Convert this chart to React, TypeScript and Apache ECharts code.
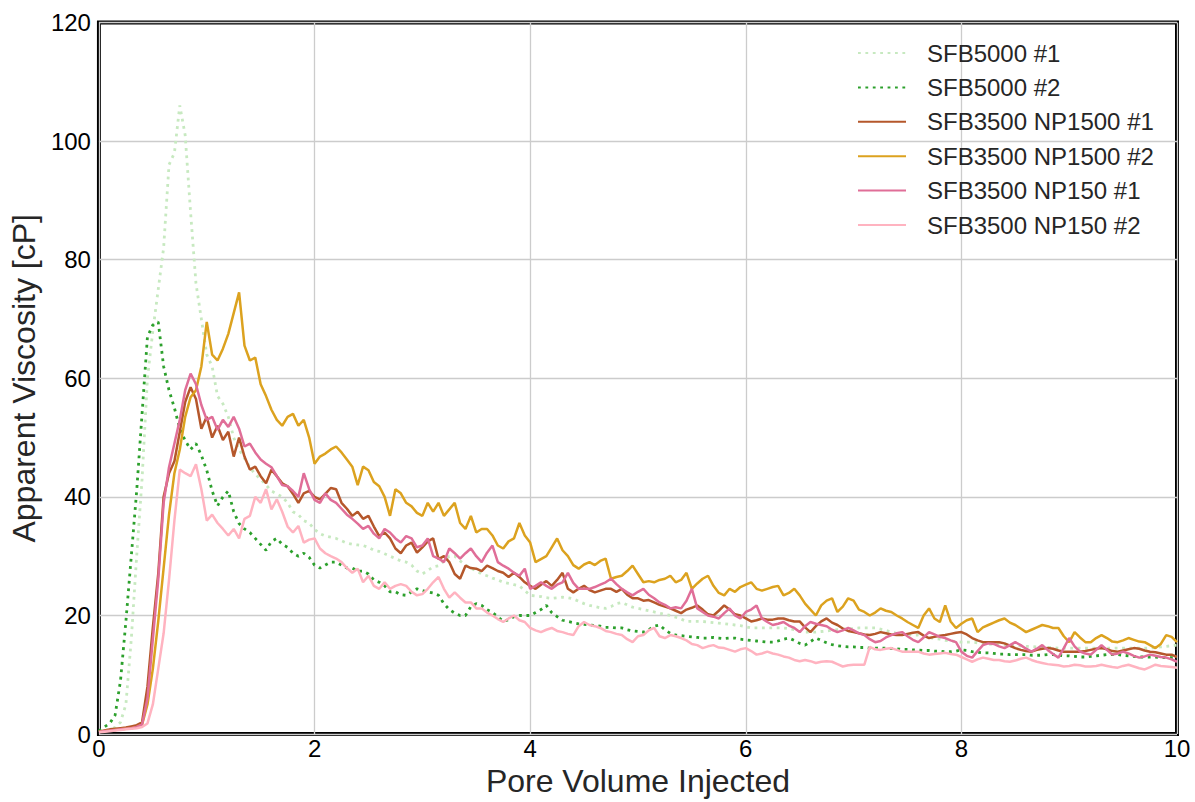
import React, { useEffect, useRef } from "react";
import * as echarts from "echarts";

// Pore volumes injected: readings are sampled every 0.05 PV from 0 to 10.
const PV_STEP = 0.05;
const PV = Array.from({ length: 201 }, (_, i) => +(i * PV_STEP).toFixed(2));

const X_TICKS = { min: 0, max: 10, interval: 2 };
const Y_TICKS = { min: 0, max: 120, interval: 20 };

// Apparent viscosity [cP], one row per unit of pore volume.
const sfb5000_1 = [
  0.4, 0.6, 0.8, 1.1, 2, 5, 16, 30, 43, 60, 68, 75, 82, 96, 98, 106, 101, 88, 76, 70,
  64, 62, 57, 55.7, 53.5, 50, 48, 46.5, 45, 43.8, 43, 42, 41, 40.5, 40, 39, 37.5, 37, 36, 35.6,
  34.5, 33.8, 33.4, 33.2, 33, 32.6, 32.2, 32, 31.9, 31.8, 31.5, 31, 30.8, 30.4, 30, 29.6, 29.2, 29, 28.5, 27.5,
  27, 27.6, 28.2, 28.4, 29.2, 30, 30, 29.2, 28.5, 28, 27.5, 27, 26.7, 26.3, 26, 25.6, 25.4, 25.2, 25, 24.2,
  23.4, 23.3, 23.2, 23, 22.9, 23, 23.1, 23, 22.8, 22.4, 22, 21.7, 21.5, 21.3, 21.2, 21.5, 22, 22.2, 21.8, 21.4,
  21.2, 21, 20.8, 20.6, 20.4, 20.2, 20, 19.7, 19.4, 19, 19, 19, 19, 18.9, 18.8, 18.7, 18.6, 18.5, 18.4, 18.3,
  18.1, 17.9, 17.9, 17.9, 17.9, 17.9, 17.9, 17.9, 17.8, 17.6, 17.3, 17.2, 17.2, 17.2, 17.3, 17.4, 17.5, 17.6, 17.7, 17.8,
  17.8, 17.9, 17.9, 17.9, 17.9, 17.7, 17.5, 17.2, 17, 16.9, 16.8, 16.7, 16.7, 16.5, 16.3, 16.1, 16, 15.8, 15.7, 15.6,
  15.5, 15.5, 15.5, 15.4, 15.3, 15.2, 15.1, 15.1, 15, 15, 15, 14.9, 14.8, 14.8, 14.7, 14.7, 14.6, 14.6, 14.5, 14.5,
  14.5, 14.5, 14.5, 14.5, 14.5, 14.5, 14.5, 14.5, 14.5, 14.5, 14.5, 14.5, 14.5, 14.5, 14.5, 14.5, 14.6, 14.7, 14.8, 14.9, 15,
];

const sfb5000_2 = [
  0.5, 1.2, 1.8, 3.2, 9, 19, 30, 41, 54, 67, 69, 69.5, 62, 58, 55, 51.5, 49.5, 48, 49, 47,
  44.5, 41, 38.5, 40, 41, 37.5, 35.5, 34.6, 34, 33, 32, 31, 32.5, 33, 32, 31.5, 30.5, 30, 30.5, 29.8,
  28.5, 28, 28.5, 29, 29, 28.5, 28, 28, 27.5, 27.5, 27, 26, 25.6, 25, 24, 24, 23.5, 23.4, 24, 24.5,
  24.2, 24, 23.8, 23.4, 22, 21, 20.4, 20, 20, 21.5, 22, 21.7, 21, 20.5, 19.8, 19, 19.3, 19.8, 20, 20,
  20, 20.5, 21, 21.7, 20.5, 19.8, 19.2, 19, 18.8, 18.6, 18.5, 18.4, 18.3, 18.2, 18, 18, 17.9, 17.9, 17.6, 17.4,
  17.3, 17.2, 17.6, 18.2, 18.4, 17.6, 17, 16.7, 16.6, 16.5, 16.4, 16.3, 16.2, 16.2, 16.3, 16.2, 16.1, 16.2, 16.2, 16,
  15.9, 15.8, 15.7, 15.6, 15.5, 15.5, 15.7, 16, 16.2, 15.8, 15.3, 15, 15.6, 16.2, 15.8, 15.4, 15.1, 14.9, 14.8, 14.7,
  14.7, 14.6, 14.6, 14.5, 14.5, 14.5, 14.5, 14.4, 14.4, 14.3, 14.3, 14.2, 14.2, 14.1, 14.1, 14, 14, 13.9, 13.9, 14,
  14.2, 14.1, 13.9, 13.8, 13.7, 13.7, 13.6, 13.5, 13.5, 13.4, 13.4, 13.4, 13.4, 13.3, 13.3, 13.3, 13.4, 13.4, 13.3, 13.2,
  13.2, 13.1, 13, 13, 13.1, 13.2, 13.3, 13.4, 13.4, 13.4, 13.3, 13.2, 13.1, 13, 13, 13, 13, 12.9, 12.9, 12.9, 12.9,
];

const np1500_1 = [
  0.4, 0.6, 0.8, 0.9, 1, 1.1, 1.3, 1.5, 2, 8, 18, 27, 40, 44, 46, 51, 56, 58.5, 56.5, 51.5,
  53.5, 50, 52, 49.6, 51, 46.8, 50, 46.8, 44.6, 45.1, 43.5, 42.3, 44.6, 43.5, 42.3, 41.8, 40.5, 39, 40.6, 41,
  40, 39.6, 40.5, 41.5, 41.3, 39, 38, 36.8, 37.5, 36.3, 36.8, 35, 33.4, 34, 33, 31.3, 30.5, 31.8, 32.3, 30.6,
  31.5, 32.5, 33, 29.5, 30, 29, 27, 26.2, 28.4, 28, 27.9, 27.5, 28.4, 28, 27.5, 27.2, 26.5, 27.2, 26.5, 25.6,
  25, 24.5, 25.2, 25.8, 25, 26, 27.2, 24.5, 23.9, 24.5, 25, 24.3, 23.9, 24.2, 24.5, 24.5, 24, 24.5, 23.5, 22.9,
  22.9, 22.5, 22.6, 22.2, 21.8, 21.5, 21.2, 20.8, 20.4, 21, 21.3, 21.7, 21, 20.2, 20, 20.8, 21.7, 21, 20.2, 20,
  19.5, 19, 19.2, 19.5, 19.3, 19.3, 19.5, 19.5, 19.2, 19, 19, 18, 17.2, 18.2, 19, 19.5, 18.8, 18.4, 17.8, 17.4,
  17.2, 17, 16.8, 16.7, 16.9, 17.2, 17, 16.8, 16.7, 16.7, 16.9, 17.1, 17.2, 16.6, 16.2, 16.4, 16.6, 16.7, 16.9, 17.1,
  17.2, 16.8, 16.2, 15.8, 15.5, 15.5, 15.5, 15.5, 15.3, 14.9, 14.5, 14.2, 14, 13.9, 14.2, 14.4, 14.5, 14.4, 14.1, 13.9,
  13.9, 13.9, 13.9, 14, 14.2, 14.4, 14.5, 14.3, 14, 13.9, 14.1, 14.3, 14.5, 14.4, 14.1, 13.9, 13.8, 13.6, 13.4, 13.4, 13,
];

const np1500_2 = [
  0.4, 0.5, 0.6, 0.7, 0.8, 0.9, 1, 1.2, 1.6, 5, 11, 19, 28, 37, 44, 48, 53.5, 56.8, 58, 62,
  69.5, 64, 63, 65, 67.5, 71, 74.5, 65.5, 63, 63.5, 59, 57, 54.7, 53, 52, 53.5, 54, 52, 53, 50,
  45.6, 46.8, 47.3, 48, 48.5, 47.5, 46.3, 45.1, 42, 45.1, 44.5, 42.5, 41.8, 40, 36.8, 41.3, 40.6, 39, 38.4, 37.3,
  36.8, 39, 37.5, 39, 36.8, 37.9, 39, 35.6, 34.6, 36.8, 34, 34.6, 34.6, 33.5, 31.8, 31.3, 32.5, 33, 35.6, 33.5,
  32.3, 29, 29.5, 30, 31.5, 33, 31, 30, 28.5, 27.9, 28.6, 29, 28.5, 29.2, 29.6, 26.2, 26.5, 26.7, 27.5, 28.4,
  27, 25.6, 25.8, 25.6, 26, 26.2, 26.7, 25.6, 26, 27.2, 24.5, 25.4, 26.2, 26.7, 25, 23.8, 23.4, 24.5, 24, 24.8,
  25.2, 25.6, 24.5, 24.2, 24.5, 24.8, 25, 23.4, 23.8, 24.5, 23.4, 22, 21, 20, 21.7, 22.5, 22.9, 20.6, 21.5, 22.9,
  22.5, 21, 20.6, 20, 20.5, 21.2, 20.8, 20.6, 20, 19.5, 18.9, 18.4, 17.9, 20, 21.2, 19.5, 18.9, 21.7, 19, 17.9,
  18.6, 19.2, 19.5, 17.2, 18, 18.4, 18.8, 19.2, 19.5, 18.8, 18.4, 17.8, 17.2, 17.6, 18, 18.4, 18.2, 17.9, 17.9, 16.5,
  15.5, 17.2, 16.3, 15.5, 15.5, 16.2, 16.7, 16.2, 15.6, 15.5, 15.8, 16.2, 15.9, 15.6, 15.5, 15, 14.5, 15.2, 16.7, 16.4, 15.5,
];

const np150_1 = [
  0.4, 0.5, 0.6, 0.7, 0.8, 0.9, 1, 1.2, 1.6, 6, 16, 26, 39, 45, 49, 53, 58, 60.8, 59, 55.5,
  53, 53.5, 51.3, 53, 51.8, 53.5, 51.5, 48.5, 49, 47.5, 46.3, 45.6, 45, 43.5, 42, 41.8, 41, 40, 44, 41.3,
  39.5, 39, 40.6, 39.5, 39, 38, 37, 36.3, 35.5, 34.6, 35.1, 33.8, 33, 34.6, 34, 33, 32.3, 33.4, 33, 31.5,
  31.8, 33, 30, 29.6, 29, 31.3, 30.5, 29.6, 30.5, 31.3, 30, 29, 30.6, 31.8, 29, 28.4, 27.9, 27.2, 26.7, 27.9,
  24.5, 25, 25.6, 25, 24.5, 25.2, 25.6, 27.2, 25.5, 24.5, 24.5, 24.5, 24.8, 25.2, 25.6, 26.2, 25.3, 24.5, 23.9, 23.4,
  24, 24.5, 23.5, 22.9, 22.2, 21.8, 21.2, 21.4, 21.2, 22.5, 24.5, 21.2, 20.6, 20, 19.8, 19.5, 20.4, 21.2, 20, 19.5,
  20.6, 21, 21.7, 19.5, 18.9, 18.4, 18.6, 18.9, 18.3, 17.9, 17.2, 18.2, 18.9, 18.6, 18.4, 18.2, 17.6, 17.2, 17.5, 17.9,
  17.5, 17, 16.7, 16, 15.5, 15.7, 16.3, 16.7, 17, 17.2, 16.5, 15.9, 15.5, 16.3, 17.2, 16.8, 16.4, 16.2, 15.8, 15.5,
  13.9, 13.2, 12.9, 14, 15, 15.3, 15.2, 14.8, 14.5, 15, 15.5, 15, 14.4, 13.9, 14.4, 15, 14.2, 13.5, 12.9, 14.5,
  16.2, 14.8, 13.9, 13.6, 13.4, 14.2, 15, 14.2, 13.4, 13.6, 13.9, 13.6, 13.2, 12.9, 13.1, 13.4, 13.2, 13, 12.9, 12.6, 12.2,
];

const np150_2 = [
  0.3, 0.4, 0.5, 0.6, 0.7, 0.8, 0.9, 1, 1.2, 1.8, 5, 11, 17, 26, 36, 44.6, 44, 43.5, 45.5, 41.3,
  36, 37, 35.6, 34.6, 33.5, 34.6, 33, 36.3, 36.8, 40, 39, 41.3, 37.9, 39.6, 37.5, 35, 34, 35.1, 32.3, 32.8,
  33, 31.3, 30.5, 30, 29.6, 29, 28, 27.2, 27.9, 25.6, 26.7, 25, 24.5, 25.6, 24.5, 25, 25.3, 25, 24, 23.4,
  23.6, 24.5, 25.6, 26.5, 24.5, 23, 23.9, 23, 22.2, 22.2, 21.2, 21.2, 20.5, 20, 19.4, 18.9, 19.5, 20, 19.2, 18.9,
  17.9, 17.5, 17.2, 17.6, 17.9, 17.4, 17.2, 16.9, 16.7, 18.2, 18.9, 18.4, 18.2, 17.9, 17.4, 17.2, 16.9, 16.7, 16, 15.5,
  16.5, 16.7, 17.5, 17.9, 16.5, 16.2, 16.7, 16.5, 16.2, 15.8, 15.2, 15, 14.5, 14.8, 15, 14.6, 14.5, 14.2, 13.9, 14.3,
  14.5, 14, 13.4, 13.6, 13.9, 13.6, 13.4, 13.1, 12.9, 12.5, 12.3, 12.5, 12.3, 12, 12.2, 12.3, 12.2, 11.8, 11.4, 11.6,
  11.7, 11.7, 11.7, 14.7, 14.3, 14.2, 14.4, 14.5, 14.2, 13.9, 13.9, 13.9, 13.9, 13.6, 13.4, 13.5, 13.6, 13.7, 13.5, 13.4,
  13, 12.6, 12.2, 12.6, 12.9, 12.7, 12.5, 12.5, 12.3, 12.2, 12.4, 12.7, 12.9, 12.5, 12.2, 12, 11.8, 11.7, 11.6, 11.4,
  11.5, 11.7, 11.6, 11.4, 11.4, 11.5, 11.7, 11.5, 11.3, 11.2, 11.5, 11.7, 11.4, 11.1, 10.9, 11.3, 11.7, 11.5, 11.4, 11.3, 11.2,
];

const SERIES_NAMES = [
  "SFB5000 #1",
  "SFB5000 #2",
  "SFB3500 NP1500 #1",
  "SFB3500 NP1500 #2",
  "SFB3500 NP150 #1",
  "SFB3500 NP150 #2",
];
const SERIES_VALUES = [sfb5000_1, sfb5000_2, np1500_1, np1500_2, np150_1, np150_2];
const SERIES_COLORS = ["#c7e9c0", "#2ca02c", "#b5572b", "#dca21f", "#e06e98", "#ffb3c0"];
const SERIES_DOTTED = [true, true, false, false, false, false];

const FONT = "'Liberation Sans', Arial, Helvetica, sans-serif";

export default function App() {
  const ref = useRef<HTMLDivElement>(null);

  useEffect(() => {
    if (!ref.current) return;
    const chart = echarts.init(ref.current, null, { renderer: "svg" });

    const series = SERIES_NAMES.map((name, k) => ({
      name,
      type: "line",
      data: PV.map((x, i) => [x, SERIES_VALUES[k][i]]),
      symbol: "none",
      showSymbol: false,
      itemStyle: { color: SERIES_COLORS[k] },
      lineStyle: SERIES_DOTTED[k]
        ? { color: SERIES_COLORS[k], width: 2.8, type: [2.8, 4.6], cap: "butt" }
        : { color: SERIES_COLORS[k], width: 2.5, type: "solid" },
      z: 3 + k,
    }));

    chart.setOption({
      animation: false,
      backgroundColor: "#ffffff",
      textStyle: { fontFamily: FONT },
      grid: {
        left: 94,
        right: 18,
        top: 22.5,
        bottom: 61,
        show: true,
        borderColor: "#000000",
        borderWidth: 4,
        backgroundColor: "transparent",
      },
      legend: {
        orient: "vertical",
        left: 857,
        top: 41,
        padding: 0,
        itemWidth: 48,
        itemHeight: 14,
        itemGap: 10.4,
        data: SERIES_NAMES,
        // line samples only, no marker in the middle
        itemStyle: { opacity: 0 },
        textStyle: {
          fontFamily: FONT,
          fontSize: 24,
          lineHeight: 24,
          color: "#262626",
          padding: [0, 0, 0, 16],
        },
      },
      xAxis: {
        type: "value",
        ...X_TICKS,
        name: "Pore Volume Injected",
        nameLocation: "middle",
        nameGap: 26,
        nameTextStyle: { fontFamily: FONT, fontSize: 32, color: "#262626" },
        axisLine: { show: false },
        axisTick: { show: false },
        axisLabel: { fontFamily: FONT, fontSize: 24, color: "#000000", margin: 2 },
        splitLine: { show: true, lineStyle: { color: "#cccccc", width: 1.3 } },
      },
      yAxis: {
        type: "value",
        ...Y_TICKS,
        name: "Apparent Viscosity [cP]",
        nameLocation: "middle",
        nameGap: 48,
        nameTextStyle: { fontFamily: FONT, fontSize: 32, color: "#262626" },
        axisLine: { show: false },
        axisTick: { show: false },
        axisLabel: { fontFamily: FONT, fontSize: 24, color: "#000000", margin: 8 },
        splitLine: { show: true, lineStyle: { color: "#cccccc", width: 1.3 } },
      },
      series,
    });

    return () => chart.dispose();
  }, []);

  return (
    <div
      ref={ref}
      style={{ position: "fixed", left: 0, top: 0, width: 1195, height: 802 }}
    />
  );
}
